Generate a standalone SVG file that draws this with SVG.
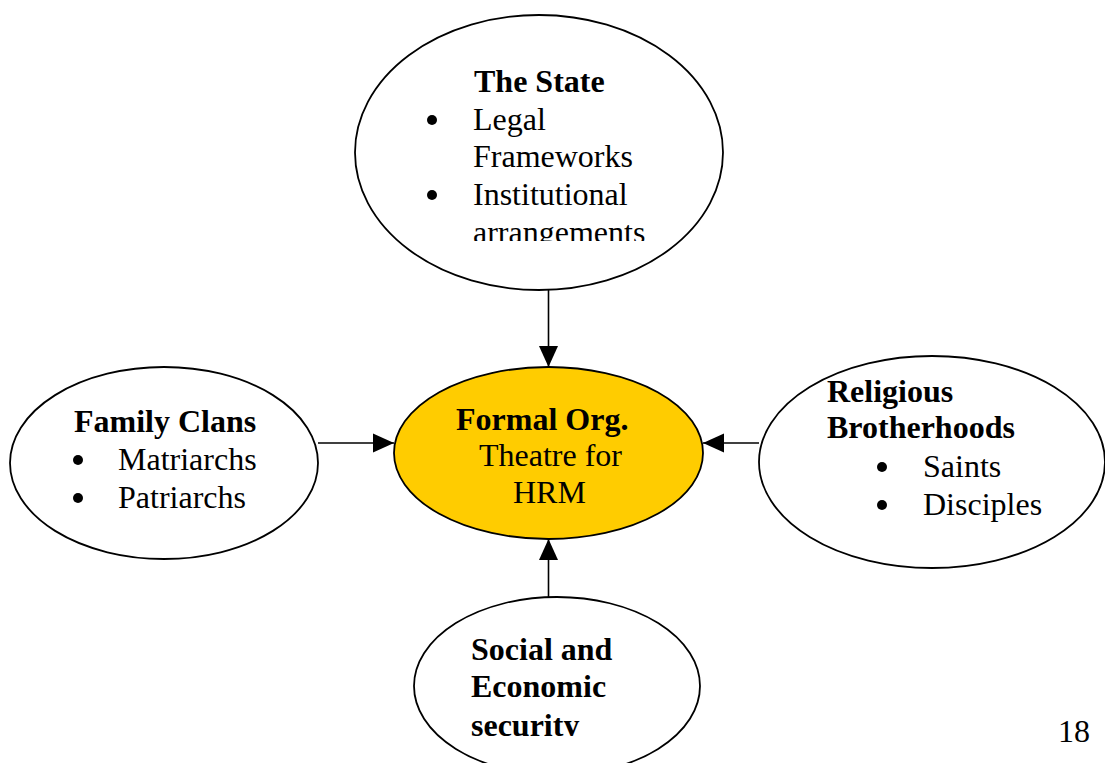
<svg xmlns="http://www.w3.org/2000/svg" width="1105" height="763" viewBox="0 0 1105 763">
  <style>
    .node { fill: #ffffff; stroke: #000000; stroke-width: 1.8; }
    .core { fill: #ffcc00; stroke: #000000; stroke-width: 1.8; }
    .edge { stroke: #000000; stroke-width: 1.6; fill: none; marker-end: url(#head); }
    text { font-family: "Liberation Serif", "Times New Roman", serif; font-size: 32px; fill: #000000; }
    .b { font-weight: bold; }
  </style>
  <defs>
    <marker id="head" markerUnits="userSpaceOnUse" markerWidth="22" markerHeight="20" refX="21" refY="10" orient="auto">
      <path d="M0,0.5 L21,10 L0,19.5 Z" fill="#000000"/>
    </marker>
    <clipPath id="clipState"><rect x="0" y="0" width="1105" height="241"/></clipPath>
    <clipPath id="clipSocial"><rect x="0" y="0" width="1105" height="736"/></clipPath>
  </defs>

  <rect width="1105" height="763" fill="#ffffff"/>

  <!-- connectors -->
  <g id="connectors">
    <line class="edge" x1="548.5" y1="290" x2="548.5" y2="367"/>
    <line class="edge" x1="318" y1="443" x2="394" y2="443"/>
    <line class="edge" x1="759" y1="443" x2="703" y2="443"/>
    <line class="edge" x1="548.5" y1="597" x2="548.5" y2="539"/>
  </g>

  <!-- top: the state -->
  <g id="state">
    <ellipse class="node" cx="539" cy="152.5" rx="184" ry="137.5"/>
    <text class="b" x="474" y="92">The State</text>
    <circle cx="432" cy="120" r="5"/>
    <text x="473" y="130">Legal</text>
    <text x="473" y="167">Frameworks</text>
    <circle cx="432" cy="195" r="5"/>
    <text x="473" y="205">Institutional</text>
    <text x="473" y="243" clip-path="url(#clipState)">arrangements</text>
  </g>

  <!-- left: family clans -->
  <g id="family">
    <ellipse class="node" cx="164" cy="463" rx="154" ry="96"/>
    <text class="b" x="74" y="432">Family Clans</text>
    <circle cx="78" cy="460" r="5"/>
    <text x="118" y="470">Matriarchs</text>
    <circle cx="78" cy="498" r="5"/>
    <text x="118" y="508">Patriarchs</text>
  </g>

  <!-- centre: formal organisation -->
  <g id="formal">
    <ellipse class="core" cx="548.5" cy="453" rx="154.5" ry="86"/>
    <text class="b" x="456" y="430">Formal Org.</text>
    <text x="479" y="466">Theatre for</text>
    <text x="513" y="503">HRM</text>
  </g>

  <!-- right: religious brotherhoods -->
  <g id="religious">
    <ellipse class="node" cx="932" cy="462" rx="173" ry="106"/>
    <text class="b" x="827" y="402">Religious</text>
    <text class="b" x="827" y="438">Brotherhoods</text>
    <circle cx="882" cy="467" r="5"/>
    <text x="923" y="477">Saints</text>
    <circle cx="882" cy="505" r="5"/>
    <text x="923" y="515">Disciples</text>
  </g>

  <!-- bottom: social and economic security -->
  <g id="social">
    <ellipse class="node" cx="557" cy="686" rx="143" ry="89"/>
    <text class="b" x="471" y="660">Social and</text>
    <text class="b" x="471" y="697">Economic</text>
    <text class="b" x="471" y="736" clip-path="url(#clipSocial)">security</text>
  </g>

  <!-- page number -->
  <text x="1058" y="742">18</text>
</svg>
